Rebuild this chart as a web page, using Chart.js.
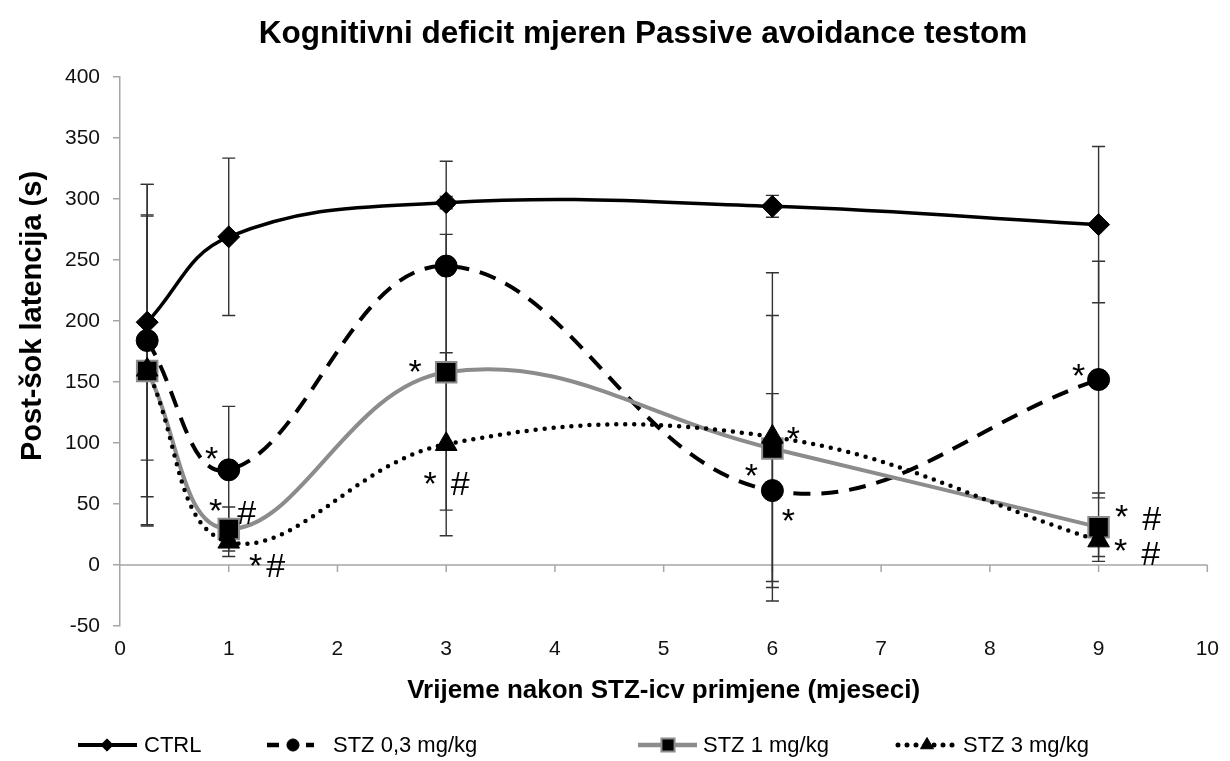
<!DOCTYPE html>
<html><head><meta charset="utf-8">
<script src="https://cdn.jsdelivr.net/npm/chart.js@4.4.0/dist/chart.umd.min.js"></script>
<style>html,body{margin:0;padding:0;background:#fff;} #wrap{width:1230px;height:761px;position:relative;}</style>
</head><body><div id="wrap"><canvas id="c" width="1230" height="761"></canvas></div>
<script>
// ---- data ----
const months = [0.25, 1, 3, 6, 9];
const seriesNames = ['CTRL', 'STZ 0,3 mg/kg', 'STZ 1 mg/kg', 'STZ 3 mg/kg'];
const ctrl  = [199, 269, 297, 294, 279];
const stz03 = [184, 78, 245, 61, 152];
const stz1  = [159, 29.5, 158, 95.5, 31];
const stz3  = [160, 19, 99, 105, 20];
const ctrlErr  = [113, 64.5, 5, 9, 64];
const stz03Err = [128, 52, 86, 79.5, 97];
const stz1Err  = [127, 18, 113, 109, 28];
const stz3Err  = [127, 12, 75, 134.5, 13];
const xTickValues = [0,1,2,3,4,5,6,7,8,9,10];
const yTickValues = [-50,0,50,100,150,200,250,300,350,400];
const titleText = 'Kognitivni deficit mjeren Passive avoidance testom';
const xTitle = 'Vrijeme nakon STZ-icv primjene (mjeseci)';
const yTitle = 'Post-šok latencija (s)';
// significance marks: [series index, point index, symbol]
const sigMarks = [
  [1,1,'*'],[2,1,'*'],[2,1,'#'],[3,1,'*'],[3,1,'#'],
  [2,2,'*'],[3,2,'*'],[3,2,'#'],
  [3,3,'*'],[1,3,'*'],[1,3,'*'],
  [1,4,'*'],[2,4,'*'],[2,4,'#'],[3,4,'*'],[3,4,'#']
];

// ---- layout / style (not data) ----
const sigOffsets = [[-17,-20],[-13,-27],[18,-17],[27,15],[47,23],
  [-31,-9],[-16,31],[14,39],
  [21,-7],[-21,-23],[16,22],
  [-20,-12],[23,-19],[53,-9],[22,2],[52,12]];
const FONT = "'Liberation Sans', Arial, sans-serif";
const GRAY = '#8c8c8c';
const AXIS = '#a6a6a6';

const values = [ctrl, stz03, stz1, stz3];
const errs = [ctrlErr, stz03Err, stz1Err, stz3Err];
const styles = [
  {borderColor:'#000', borderWidth:3.5, borderDash:[], pointStyle:'rectRot', pointRadius:11, pointBackgroundColor:'#000', pointBorderColor:'#000', pointBorderWidth:1, order:4},
  {borderColor:'#000', borderWidth:4, borderDash:[17,11], pointStyle:'circle', pointRadius:11, pointBackgroundColor:'#000', pointBorderColor:'#000', pointBorderWidth:1, order:3},
  {borderColor:GRAY, borderWidth:4, borderDash:[], pointStyle:'rect', pointRadius:14.5, pointBackgroundColor:'#000', pointBorderColor:GRAY, pointBorderWidth:2, order:2},
  {borderColor:'#000', borderWidth:4.5, borderDash:[0,9], borderCapStyle:'round', pointStyle:'triangle', pointRadius:12.5, pointBackgroundColor:'#000', pointBorderColor:'#000', pointBorderWidth:1, order:1}
];

const datasets = values.map((vals, i) => Object.assign({
  label: seriesNames[i],
  data: vals.map((v, j) => ({x: months[j], y: v})),
  errors: errs[i],
  tension: 0.4,
  fill: false,
  pointHoverRadius: styles[i].pointRadius
}, styles[i]));

const errorBarPlugin = {
  id: 'errorBars',
  beforeDatasetsDraw(chart) {
    const {ctx, scales:{x, y}} = chart;
    ctx.save();
    ctx.strokeStyle = '#333';
    ctx.lineWidth = 1.4;
    chart.data.datasets.forEach(ds => {
      ds.data.forEach((p, j) => {
        const e = ds.errors[j];
        const px = x.getPixelForValue(p.x);
        const top = y.getPixelForValue(p.y + e);
        const bot = y.getPixelForValue(p.y - e);
        ctx.beginPath();
        ctx.moveTo(px, top); ctx.lineTo(px, bot);
        ctx.moveTo(px - 6.5, top); ctx.lineTo(px + 6.5, top);
        ctx.moveTo(px - 6.5, bot); ctx.lineTo(px + 6.5, bot);
        ctx.stroke();
      });
    });
    ctx.restore();
  }
};

const zeroLinePlugin = {
  id: 'zeroLine',
  beforeDatasetsDraw(chart) {
    const {ctx, chartArea, scales:{x, y}} = chart;
    const py = y.getPixelForValue(0);
    ctx.save();
    ctx.strokeStyle = AXIS;
    ctx.lineWidth = 1.5;
    ctx.beginPath();
    ctx.moveTo(chartArea.left, py); ctx.lineTo(chartArea.right, py);
    xTickValues.forEach(v => {
      if (v === 0) return;
      const px = x.getPixelForValue(v);
      ctx.moveTo(px, py); ctx.lineTo(px, py + 7);
    });
    ctx.stroke();
    ctx.restore();
  }
};

const titlesPlugin = {
  id: 'titles',
  afterDraw(chart) {
    const {ctx} = chart;
    ctx.save();
    ctx.fillStyle = '#000';
    ctx.textAlign = 'center';
    ctx.textBaseline = 'middle';
    ctx.font = 'bold 31.5px ' + FONT;
    ctx.fillText(titleText, 643, 34);
    ctx.translate(33, 316);
    ctx.rotate(-Math.PI / 2);
    ctx.font = 'bold 29px ' + FONT;
    ctx.fillText(yTitle, 0, 0);
    ctx.restore();
  }
};

const sigPlugin = {
  id: 'sigMarks',
  afterDatasetsDraw(chart) {
    const {ctx, scales:{x, y}} = chart;
    const size = 34;
    ctx.save();
    ctx.font = size + 'px ' + FONT;
    ctx.fillStyle = '#000';
    ctx.textAlign = 'center';
    ctx.textBaseline = 'alphabetic';
    sigMarks.forEach((m, k) => {
      const [si, pi, sym] = m;
      const px = x.getPixelForValue(months[pi]) + sigOffsets[k][0];
      const cy = y.getPixelForValue(values[si][pi]) + sigOffsets[k][1];
      const base = cy + (sym === '*' ? 0.58 : 0.35) * size;
      ctx.fillText(sym, px, base);
    });
    ctx.restore();
  }
};

function drawMarker(ctx, st, cx, cy) {
  const r = st.pointRadius;
  ctx.beginPath();
  if (st.pointStyle === 'rectRot') {
    ctx.moveTo(cx - r, cy); ctx.lineTo(cx, cy - r); ctx.lineTo(cx + r, cy); ctx.lineTo(cx, cy + r);
  } else if (st.pointStyle === 'circle') {
    ctx.arc(cx, cy, r, 0, Math.PI * 2);
  } else if (st.pointStyle === 'rect') {
    const s = r * Math.SQRT1_2;
    ctx.rect(cx - s, cy - s, 2 * s, 2 * s);
  } else {
    for (let k = 0; k < 3; k++) {
      const a = k * 2 * Math.PI / 3;
      ctx.lineTo(cx + Math.sin(a) * r, cy - Math.cos(a) * r);
    }
  }
  ctx.closePath();
  ctx.fillStyle = st.pointBackgroundColor;
  ctx.fill();
  ctx.lineWidth = st.pointBorderWidth;
  ctx.strokeStyle = st.pointBorderColor;
  ctx.stroke();
}

const legendPlugin = {
  id: 'customLegend',
  afterDraw(chart) {
    const {ctx} = chart;
    const lineStart = [78, 267, 638, 898];
    const lineEnd = [137, 314, 697, 956];
    const markerX = [107, 293, 668, 927];
    const markerScale = [0.56, 0.55, 0.64, 0.6];
    const textStart = [144, 333, 703, 963];
    const cy = 745;
    ctx.save();
    chart.data.datasets.forEach((ds, i) => {
      const st = styles[i];
      ctx.save();
      ctx.strokeStyle = st.borderColor;
      ctx.lineWidth = st.borderWidth + 0.5;
      ctx.setLineDash(i === 1 ? [12, 27] : st.borderDash);
      ctx.lineCap = st.borderCapStyle || 'butt';
      ctx.beginPath();
      ctx.moveTo(lineStart[i], cy); ctx.lineTo(lineEnd[i], cy);
      ctx.stroke();
      ctx.restore();
      drawMarker(ctx, Object.assign({}, st, {pointRadius: st.pointRadius * markerScale[i]}), markerX[i], cy);
      ctx.font = '22px ' + FONT;
      ctx.fillStyle = '#000';
      ctx.textAlign = 'left';
      ctx.textBaseline = 'middle';
      ctx.fillText(ds.label, textStart[i], cy + 1);
    });
    ctx.restore();
  }
};

new Chart(document.getElementById('c'), {
  type: 'line',
  data: {datasets},
  plugins: [zeroLinePlugin, errorBarPlugin, sigPlugin, titlesPlugin, legendPlugin],
  options: {
    responsive: false,
    animation: false,
    layout: {padding: {left: 0, right: 13, top: 77, bottom: 50}},
    plugins: {
      legend: {display: false},
      tooltip: {enabled: false},
      title: {display: false, text: titleText}
    },
    scales: {
      x: {
        type: 'linear', min: 0, max: 10,
        afterFit(s) { s.height = 85; },
        afterBuildTicks(s) { s.ticks = xTickValues.map(v => ({value: v})); },
        grid: {display: false, drawTicks: false},
        border: {display: false},
        ticks: {font: {family: FONT, size: 21}, color: '#111', padding: 11},
        title: {display: true, text: xTitle, color: '#000',
          font: {family: FONT, size: 26, weight: 'bold', lineHeight: 1.2}, padding: {top: 0, bottom: 5}}
      },
      y: {
        type: 'linear', min: -50, max: 400,
        afterFit(s) { s.width = 120; },
        afterBuildTicks(s) { s.ticks = yTickValues.map(v => ({value: v})); },
        grid: {display: true, drawOnChartArea: false, drawTicks: true, tickLength: 7, color: AXIS, lineWidth: 1.5},
        border: {display: true, color: AXIS, width: 1.5},
        ticks: {font: {family: FONT, size: 21}, color: '#111', padding: 13},
        title: {display: false, text: yTitle}
      }
    }
  }
});
</script></body></html>
